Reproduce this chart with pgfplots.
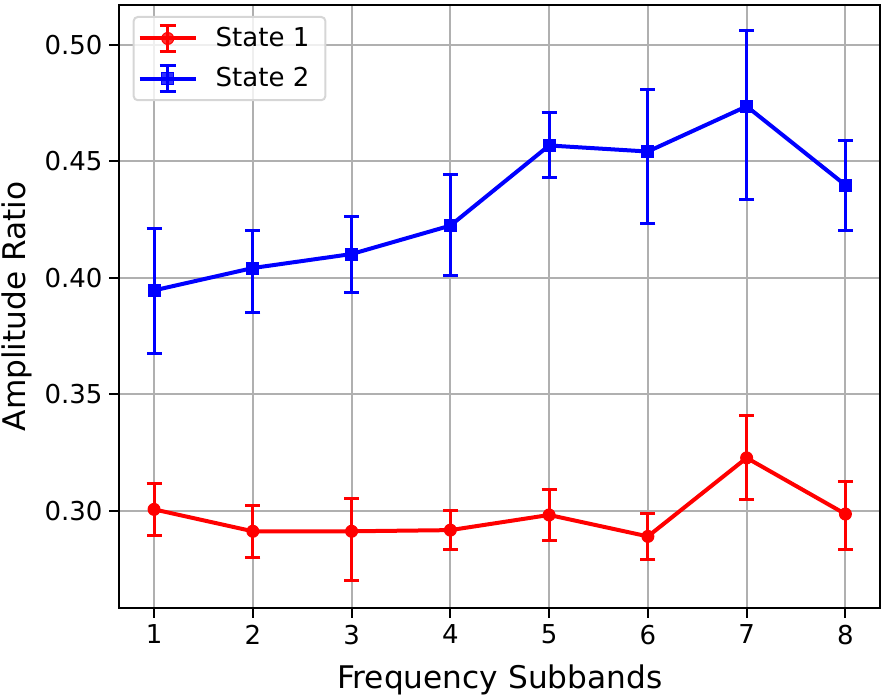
\documentclass[border=0pt]{standalone}
\usepackage{fontspec}
\setmainfont{DejaVu Sans}
\usepackage{pgfplots}
\pgfplotsset{compat=1.18}
\definecolor{gridgray}{RGB}{176,176,176}
\definecolor{legframe}{RGB}{214,214,214}
\begin{document}
\begin{tikzpicture}
\begin{axis}[
  scale only axis,
  width=380.25pt, height=301.35pt,
  xmin=0.65, xmax=8.35,
  ymin=0.2583, ymax=0.517,
  xtick={1,2,3,4,5,6,7,8},
  ytick={0.30,0.35,0.40,0.45,0.50},
  /pgf/number format/assume math mode=true,
  yticklabel style={/pgf/number format/.cd, fixed, fixed zerofill, precision=2},
  ticklabel style={font=\fontsize{13}{15}\selectfont},
  tick align=outside,
  xtick pos=left, ytick pos=left,
  major tick length=5pt,
  tick style={black, line width=1pt},
  axis line style={black, line width=1pt},
  grid=major,
  grid style={gridgray, line width=1pt},
  xlabel={Frequency Subbands},
  ylabel={Amplitude Ratio},
  label style={font=\fontsize{15.6}{18}\selectfont},
  xlabel style={at={(axis description cs:0.5,0)}, anchor=north, inner sep=0pt, yshift=-28.15pt},
  ylabel style={at={(axis description cs:0,0.5)}, anchor=south, inner sep=0pt, yshift=43.75pt},
  legend style={at={(axis description cs:0,1)}, anchor=north west, xshift=6.6pt, yshift=-5.5pt,
    draw=legframe, line width=1pt, rounded corners=2pt, fill=white, fill opacity=0.8, text opacity=1,
    font=\fontsize{13}{15}\selectfont, inner xsep=2pt, inner ysep=3.5pt, row sep=5.6pt,
    nodes={inner sep=0pt}, column sep=9pt},
  legend cell align=left,
  legend image code/.code={
    \draw[mark=none, line width=1.5pt] (14pt,-6.5pt) -- (14pt,6.5pt);
    \draw[mark=none, line width=1.5pt] (10pt,-6.5pt) -- (18pt,-6.5pt);
    \draw[mark=none, line width=1.5pt] (10pt,6.5pt) -- (18pt,6.5pt);
    \draw[line width=2pt, mark repeat=2, mark phase=2] plot coordinates {(0pt,0pt) (14pt,0pt) (28pt,0pt)};
  },
  error bars/error bar style={line width=1.5pt},
  error bars/error mark options={rotate=90, line width=1.5pt, mark size=3.75pt},
]
\addplot[red, line width=2pt, mark=*, mark size=3pt, mark options={line width=0.5pt},
  error bars/.cd, y dir=both, y explicit] coordinates {
  (1,0.3005) += (0,0.0112) -= (0,0.0114)
  (2,0.2911) += (0,0.0111) -= (0,0.0112)
  (3,0.2911) += (0,0.0141) -= (0,0.0210)
  (4,0.2916) += (0,0.0083) -= (0,0.0082)
  (5,0.2981) += (0,0.0110) -= (0,0.0109)
  (6,0.2889) += (0,0.0100) -= (0,0.0097)
  (7,0.3226) += (0,0.0182) -= (0,0.0177)
  (8,0.2985) += (0,0.0141) -= (0,0.0151)
};
\addlegendentry{State 1\rule{6pt}{0pt}}
\addplot[blue, line width=2pt, mark=square*, mark size=3pt, mark options={line width=0.5pt},
  error bars/.cd, y dir=both, y explicit] coordinates {
  (1,0.3945) += (0,0.0266) -= (0,0.0271)
  (2,0.4041) += (0,0.0160) -= (0,0.0190)
  (3,0.4101) += (0,0.0160) -= (0,0.0167)
  (4,0.4223) += (0,0.0220) -= (0,0.0215)
  (5,0.4567) += (0,0.0140) -= (0,0.0136)
  (6,0.4541) += (0,0.0265) -= (0,0.0311)
  (7,0.4735) += (0,0.0324) -= (0,0.0401)
  (8,0.4397) += (0,0.0191) -= (0,0.0196)
};
\addlegendentry{State 2\rule{6pt}{0pt}}
\end{axis}
\pgfresetboundingbox
\path[use as bounding box] ([shift={(-59.75pt,-44.15pt)}]current axis.south west) rectangle ++(441.5pt,348pt);
\end{tikzpicture}
\end{document}
